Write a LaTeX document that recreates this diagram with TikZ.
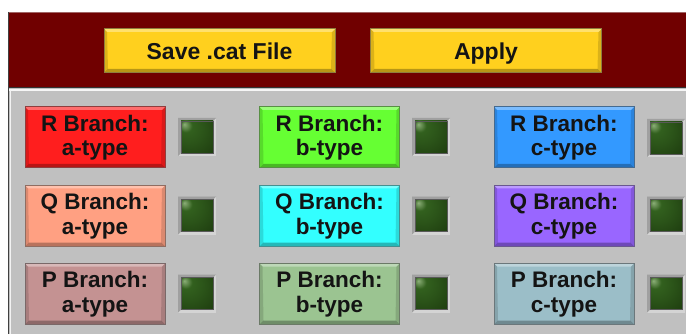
\documentclass[tikz,border=0pt]{standalone}
\usepackage{fontspec}
\setmainfont{Liberation Sans}
\definecolor{hdr}{RGB}{112,0,0}
\definecolor{hdrtop}{RGB}{160,100,100}
\definecolor{pnl}{RGB}{192,192,192}
\definecolor{ylw}{RGB}{255,208,30}
\definecolor{cRa}{RGB}{255,30,30}
\definecolor{cRb}{RGB}{102,255,51}
\definecolor{cRc}{RGB}{51,153,255}
\definecolor{cQa}{RGB}{255,160,130}
\definecolor{cQb}{RGB}{51,255,255}
\definecolor{cQc}{RGB}{153,102,255}
\definecolor{cPa}{RGB}{196,146,146}
\definecolor{cPb}{RGB}{155,196,145}
\definecolor{cPc}{RGB}{155,190,200}
\definecolor{led}{RGB}{26,54,12}
\definecolor{ledmid}{RGB}{50,96,30}
\definecolor{ledhi}{RGB}{140,175,120}
\definecolor{ledfr}{RGB}{160,160,160}
\definecolor{ledfrhi}{RGB}{212,212,212}
\definecolor{txt}{RGB}{20,20,20}
\pgfdeclareradialshading{ledshade}{\pgfpoint{-20bp}{20bp}}{%
  color(0bp)=(ledhi); color(10bp)=(ledmid); color(25bp)=(ledmid!70!led); color(55bp)=(led); color(80bp)=(led)}
\begin{document}
\begin{tikzpicture}[x=1pt,y=-1pt,
  bevel/.style={path picture={
    \fill[white,opacity=.35] (path picture bounding box.north west) -- (path picture bounding box.north east)
      -- ([shift={(-3pt,-3pt)}]path picture bounding box.north east) -- ([shift={(3pt,-3pt)}]path picture bounding box.north west) -- cycle;
    \fill[black,opacity=.28] (path picture bounding box.south west) -- (path picture bounding box.south east)
      -- ([shift={(-4pt,4pt)}]path picture bounding box.south east) -- ([shift={(4pt,4pt)}]path picture bounding box.south west) -- cycle;
    \fill[black,opacity=.14] (path picture bounding box.north west) -- ([shift={(3pt,-3pt)}]path picture bounding box.north west)
      -- ([shift={(4pt,4pt)}]path picture bounding box.south west) -- (path picture bounding box.south west) -- cycle;
    \fill[black,opacity=.14] (path picture bounding box.north east) -- ([shift={(-3pt,-3pt)}]path picture bounding box.north east)
      -- ([shift={(-4pt,4pt)}]path picture bounding box.south east) -- (path picture bounding box.south east) -- cycle;
  }},
  btn/.style={rectangle, draw=#1!45!black!80, line width=1pt, fill=#1, bevel,
    minimum width=140pt, minimum height=61pt, inner sep=0pt, align=center,
    text=txt, font=\fontsize{22.5}{24.5}\selectfont\bfseries},
  topbtn/.style={btn=ylw, minimum width=231pt, minimum height=44pt,
    font=\fontsize{23}{24}\selectfont\bfseries, text height=17pt, text depth=0pt},
  ledframe/.style={rectangle, fill=ledfrhi, minimum size=38pt, inner sep=0pt,
    path picture={\fill[ledfr] (path picture bounding box.south west) -- (path picture bounding box.north west)
      -- (path picture bounding box.north east) -- ([shift={(-3pt,-3pt)}]path picture bounding box.north east)
      -- ([shift={(3pt,-3pt)}]path picture bounding box.north west) -- ([shift={(3pt,3pt)}]path picture bounding box.south west) -- cycle;}},
  ledlamp/.style={rectangle, shading=ledshade, draw=black!65, line width=.6pt, minimum size=32pt, inner sep=0pt}
]
\useasboundingbox (0,0) rectangle (686,334);
\fill[white] (0,0) rectangle (686,334);
% panels
\fill[pnl] (8,88) rectangle (690,340);
\fill[hdr] (8,12) rectangle (690,88);
\draw[hdrtop, line width=1.2pt] (8,12.6) -- (690,12.6);
\draw[black!80, line width=1pt] (8,88) -- (690,88);
\draw[white!85!pnl, line width=1.5pt] (9,90) -- (690,90);
\draw[black!75, line width=1.5pt] (8.5,12) -- (8.5,340);
\draw[white!80!pnl, line width=1pt] (10.5,90) -- (10.5,340);
% header buttons
\node[topbtn] (save) at (219.5,51) {Save .cat File};
\node[topbtn] (apply) at (486,51) {Apply};
% branch buttons
\node[btn=cRa] (ra) at (95,137.5) {R Branch:\\a-type};
\node[btn=cRb] (rb) at (329.5,137.5) {R Branch:\\b-type};
\node[btn=cRc] (rc) at (564,137.5) {R Branch:\\c-type};
\node[btn=cQa] (qa) at (95,216) {Q Branch:\\a-type};
\node[btn=cQb] (qb) at (329.5,216) {Q Branch:\\b-type};
\node[btn=cQc] (qc) at (564,216) {Q Branch:\\c-type};
\node[btn=cPa] (pa) at (95,294) {P Branch:\\a-type};
\node[btn=cPb] (pb) at (329.5,294) {P Branch:\\b-type};
\node[btn=cPc] (pc) at (564,294) {P Branch:\\c-type};
% LEDs
\foreach \n/\x/\y in {ra/197/137, rb/431/137, rc/666/138,
                      qa/197/215.5, qb/431/215.5, qc/666/215.5,
                      pa/197/293.5, pb/431/293.5, pc/666/293.5}{
  \node[ledframe] (f\n) at (\x,\y) {};
  \node[ledlamp] (l\n) at (f\n) {};
}
\end{tikzpicture}
\end{document}
